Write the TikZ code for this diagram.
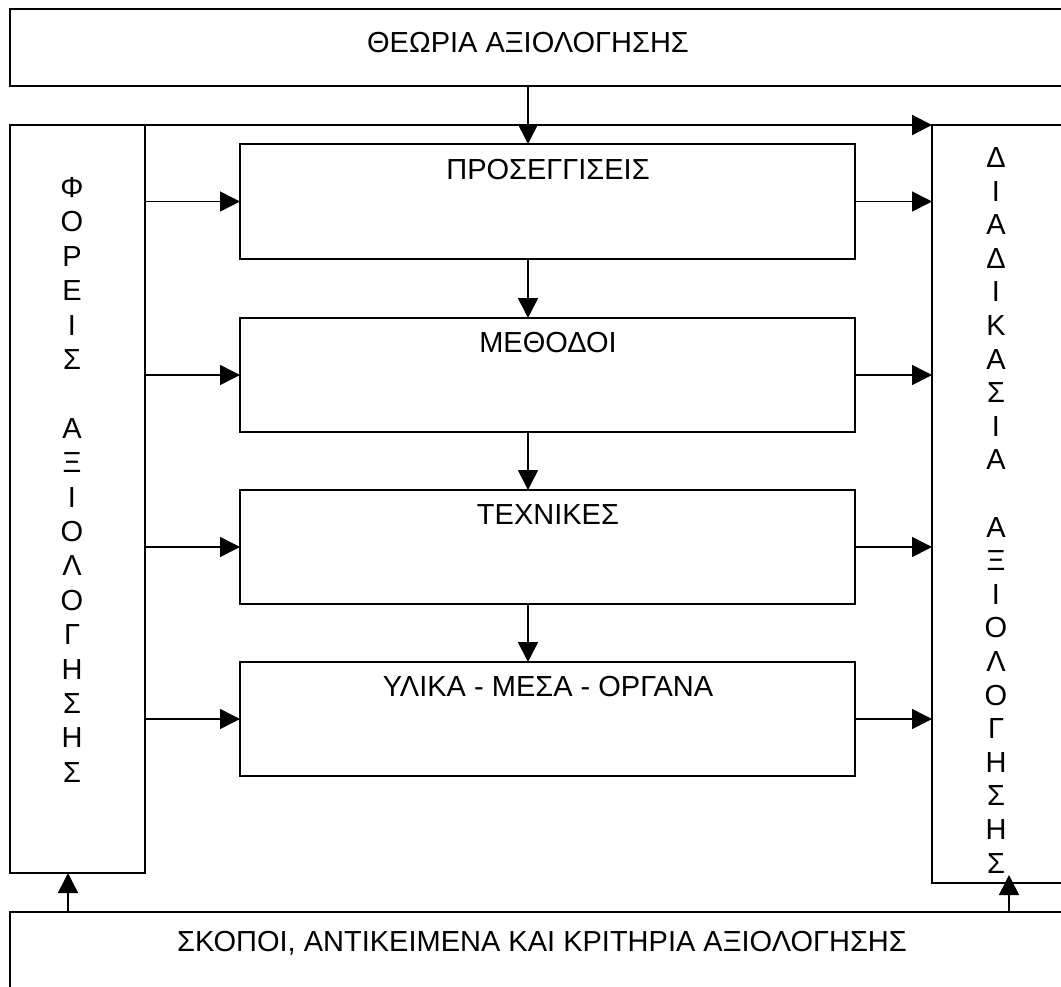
\documentclass[tikz,border=0pt]{standalone}
\usepackage{fontspec}
\setmainfont{Liberation Sans}
\usetikzlibrary{arrows.meta}
\begin{document}
\begin{tikzpicture}[x=1pt,y=-1pt,
  box/.style={draw, line width=1.6pt, inner sep=0pt, outer sep=0pt, anchor=north west},
  lbl/.style={font=\fontsize{29}{33}\selectfont, inner sep=0pt},
  chr/.style={font=\fontsize{29}{33}\selectfont, inner sep=0pt, anchor=base},
  arr/.style={line width=1.6pt, -{Triangle[length=20pt,width=20pt]}},
  thickarr/.style={line width=2.2pt, -{Triangle[length=20pt,width=20pt]}}]
\useasboundingbox (0,0) rectangle (1061,986);
% boxes
\node[box, minimum width=1065pt, minimum height=77pt] (T) at (10,9) {};
\node[box, minimum width=135pt, minimum height=748pt] (L) at (10,125) {};
\node[box, minimum width=143pt, minimum height=758pt] (R) at (932,125) {};
\node[box, minimum width=1065pt, minimum height=88pt] (B) at (10,912) {};
\node[box, minimum width=615pt, minimum height=115pt] (b1) at (240,144) {};
\node[box, minimum width=615pt, minimum height=114pt] (b2) at (240,318) {};
\node[box, minimum width=615pt, minimum height=114pt] (b3) at (240,490) {};
\node[box, minimum width=615pt, minimum height=114pt] (b4) at (240,662) {};
% texts
\node[lbl] (tT) at (528,43) {ΘΕΩΡΙΑ ΑΞΙΟΛΟΓΗΣΗΣ};
\node[lbl] (tB) at (542,943) {ΣΚΟΠΟΙ, ΑΝΤΙΚΕΙΜΕΝΑ ΚΑΙ ΚΡΙΤΗΡΙΑ ΑΞΙΟΛΟΓΗΣΗΣ};
\node[lbl] (t1) at (548,170) {ΠΡΟΣΕΓΓΙΣΕΙΣ};
\node[lbl] (t2) at (548,343) {ΜΕΘΟΔΟΙ};
\node[lbl] (t3) at (548,515) {ΤΕΧΝΙΚΕΣ};
\node[lbl] (t4) at (548,687) {ΥΛΙΚΑ - ΜΕΣΑ - ΟΡΓΑΝΑ};
% vertical letters
\foreach \c [count=\i from 0] in {Φ,Ο,Ρ,Ε,Ι,Σ,{},Α,Ξ,Ι,Ο,Λ,Ο,Γ,Η,Σ,Η,Σ}
  \node[chr] (lc\i) at (72,187+10.4+\i*34.4) {\c};
\foreach \c [count=\i from 0] in {Δ,Ι,Α,Δ,Ι,Κ,Α,Σ,Ι,Α,{},Α,Ξ,Ι,Ο,Λ,Ο,Γ,Η,Σ,Η,Σ}
  \node[chr] (rc\i) at (996,157+10.4+\i*33.6) {\c};
% connectors
\coordinate (cx) at (528,0);
\coordinate (ax1) at (68,0);
\coordinate (rt) at (1009,875);
\draw[line width=2.2pt] (L.north west) -- (L.north east);
\draw[thickarr] (L.north east) -- (R.north west);
\draw[line width=2.2pt] (R.north west) -- (R.north east);
\draw[arr] (T.south -| cx) -- (b1.north -| cx);
\draw[arr] (b1.south -| cx) -- (b2.north -| cx);
\draw[arr] (b2.south -| cx) -- (b3.north -| cx);
\draw[arr] (b3.south -| cx) -- (b4.north -| cx);
\foreach \b in {b1,b2,b3,b4} {
  \draw[arr] (L.east |- \b.west) -- (\b.west);
  \draw[arr] (\b.east) -- (R.west |- \b.east);
}
\draw[arr] (B.north -| ax1) -- (L.south -| ax1);
\draw[arr] (B.north -| rt) -- (rt);
\end{tikzpicture}
\end{document}
